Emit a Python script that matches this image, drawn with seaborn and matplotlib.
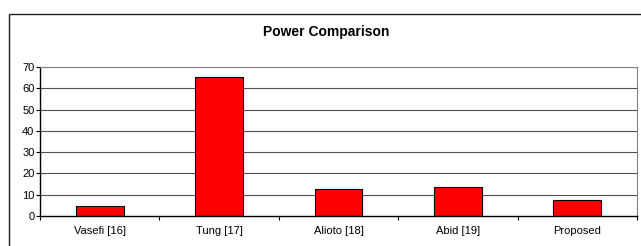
import matplotlib
matplotlib.use("Agg")
import matplotlib.pyplot as plt
import seaborn as sns
import pandas as pd
import numpy as np
from matplotlib.patches import Rectangle

categories = ["Vasefi [16]", "Tung [17]", "Alioto [18]", "Abid [19]", "Proposed"]
power = [4.8, 65.4, 12.5, 13.4, 7.3]
yticks = [0, 10, 20, 30, 40, 50, 60, 70]
title = "Power Comparison"

sns.set_style("white")
plt.rcParams['font.family'] = ['Liberation Sans', 'DejaVu Sans']
plt.rcParams['text.color'] = 'black'
plt.rcParams['xtick.color'] = 'black'
plt.rcParams['ytick.color'] = 'black'
plt.rcParams['xtick.labelcolor'] = 'black'
plt.rcParams['ytick.labelcolor'] = 'black'

df = pd.DataFrame({"cat": categories, "power": power})

W, H = 641, 246
fig = plt.figure(figsize=(W / 100, H / 100), dpi=100)
fig.patch.set_facecolor("white")

# outer chart-area border
fig.patches.append(Rectangle((9 / W, -0.1), 1.2, 1 - 14 / H + 0.1,
                             transform=fig.transFigure, fill=False,
                             edgecolor="#202020", linewidth=1.0))

ax = fig.add_axes([40 / W, 1 - 216 / H, (637 - 40) / W, (216 - 67) / H])
sns.barplot(data=df, x="cat", y="power", color="#FF0000", width=0.4,
            edgecolor="black", linewidth=0.8, saturation=1, ax=ax, zorder=3)

ax.set_xlim(-0.5, len(categories) - 0.5)
ax.set_ylim(0, 70)
ax.set_yticks(yticks)
ax.set_xlabel("")
ax.set_ylabel("")

for y in yticks[1:]:
    ax.axhline(y, color="#505050", linewidth=0.8, zorder=1)

ax.spines["left"].set_color("black")
ax.spines["left"].set_linewidth(1.0)
ax.spines["bottom"].set_color("black")
ax.spines["bottom"].set_linewidth(1.0)
ax.spines["top"].set_color("#808080")
ax.spines["top"].set_linewidth(0.8)
ax.spines["right"].set_color("#808080")
ax.spines["right"].set_linewidth(0.8)
for s in ax.spines.values():
    s.set_zorder(4)

ax.tick_params(axis="y", direction="out", length=3, width=0.8, color="black",
               labelcolor="black", labelsize=8, pad=1, left=True)
ax.set_xticks(np.arange(len(categories)))
ax.set_xticklabels(categories)
ax.set_xticks(np.arange(-0.5, len(categories)), minor=True)
ax.tick_params(axis="x", which="major", length=0, labelsize=8, pad=7,
               labelcolor="black")
ax.tick_params(axis="x", which="minor", direction="out", length=3, width=0.8,
               color="black", bottom=True)

fig.text(326 / W, 1 - 32 / H, title, ha="center", va="center",
         fontsize=10, fontweight="bold", color="black")

fig.savefig("out.png", dpi=100)
